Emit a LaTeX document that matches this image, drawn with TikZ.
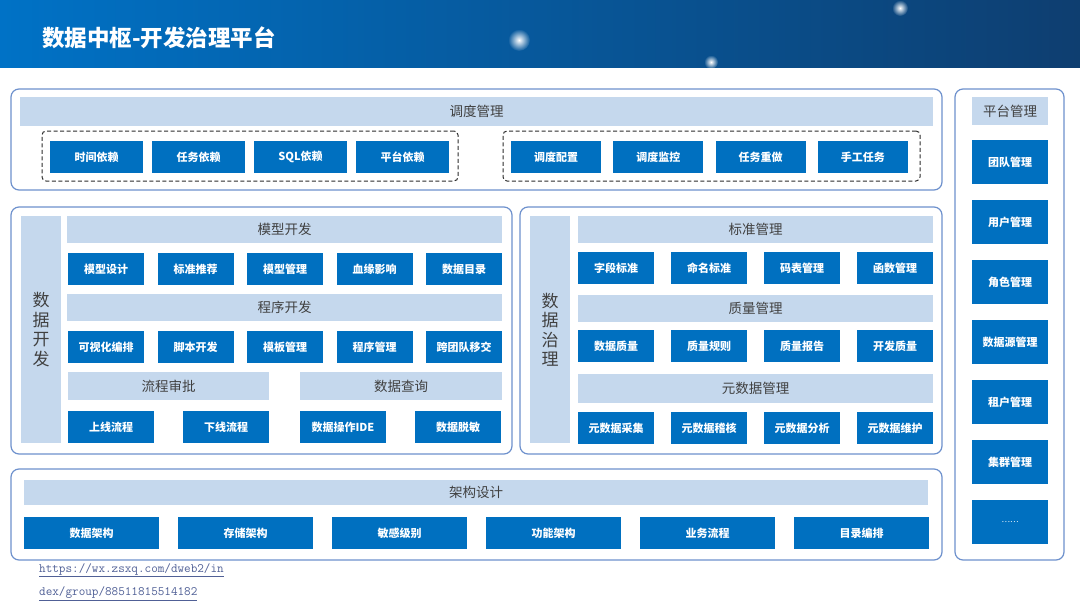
\documentclass[tikz,border=0pt]{standalone}
\usepackage{fontspec}
\setmainfont{Noto Sans CJK SC}
\usetikzlibrary{positioning,fadings}
\definecolor{hdrleft}{RGB}{0,114,198}
\definecolor{hdrmid}{RGB}{0,104,186}
\definecolor{hdrright}{RGB}{14,62,112}
\definecolor{itemblue}{RGB}{0,112,192}
\definecolor{barblue}{RGB}{197,216,237}
\definecolor{bartext}{RGB}{64,64,64}
\definecolor{panelline}{RGB}{110,145,205}
\definecolor{dashgray}{RGB}{45,45,45}
\definecolor{linkblue}{RGB}{80,96,150}
\tikzfading[name=glow, inner color=transparent!0, outer color=transparent!100]

\begin{document}
\begin{tikzpicture}[x=1pt, y=-1pt,
  panel/.style={draw=panelline, line width=1.2pt, rounded corners=8pt, anchor=north west, inner sep=0pt, outer sep=0pt},
  dashbox/.style={draw=dashgray, line width=1pt, dash pattern=on 4pt off 2.5pt, rounded corners=4pt, anchor=north west, inner sep=0pt, outer sep=0pt},
  bar/.style={fill=barblue, text=bartext, font=\fontsize{13.5}{16}\selectfont, inner sep=0pt, outer sep=0pt, anchor=north west},
  side/.style={bar, align=center, font=\fontsize{17}{19.5}\selectfont},
  item/.style={fill=itemblue, text=white, font=\bfseries\fontsize{11}{13}\selectfont, inner sep=0pt, outer sep=0pt, minimum height=32pt},
  link/.style={anchor=west, inner sep=0pt, text=linkblue, font=\ttfamily\fontsize{12.8}{14}\selectfont},
]
  \fill[white] (0,0) rectangle (1080,608);
  \useasboundingbox (0,0) rectangle (1080,608);
  \shade[left color=hdrleft, middle color=hdrmid, right color=hdrright] (0,0) rectangle (1080,67);
  \fill[white, path fading=glow] (519,40) circle (11pt);
  \fill[white, path fading=glow] (711,62) circle (7pt);
  \fill[white, path fading=glow] (900,8) circle (8pt);
  \node[anchor=west, inner sep=0pt, text=white, font=\bfseries\fontsize{22.5}{26}\selectfont] (title) at (42,38) {数据中枢-开发治理平台};

  \node[panel, minimum width=931pt, minimum height=101pt] (schedpanel) at (11,89) {};
  \node[bar, minimum width=913pt, minimum height=29pt] (schedbar) at (20,97) {调度管理};
  \node[dashbox, minimum width=416pt, minimum height=50pt] (depgroup) at (42,131) {};
  \node[dashbox, minimum width=417pt, minimum height=50pt] (opsgroup) at (503,131) {};
  \node[item, minimum width=93pt, anchor=north west] (dep1) at (50,141) {时间依赖};
  \node[item, minimum width=93pt, right=9pt of dep1] (dep2) {任务依赖};
  \node[item, minimum width=93pt, right=9pt of dep2] (dep3) {SQL依赖};
  \node[item, minimum width=93pt, right=9pt of dep3] (dep4) {平台依赖};
  \node[item, minimum width=90pt, anchor=north west] (ops1) at (511,141) {调度配置};
  \node[item, minimum width=90pt, right=12.3pt of ops1] (ops2) {调度监控};
  \node[item, minimum width=90pt, right=12.3pt of ops2] (ops3) {任务重做};
  \node[item, minimum width=90pt, right=12.3pt of ops3] (ops4) {手工任务};

  \node[panel, minimum width=501pt, minimum height=247pt] (devpanel) at (11,207) {};
  \node[side, minimum width=40pt, minimum height=227pt] (devside) at (21,216) {数\\据\\开\\发};
  \node[bar, minimum width=435pt, minimum height=27pt] (modelbar) at (67,216) {模型开发};
  \node[item, minimum width=76pt, anchor=north west] (model1) at (68,253) {模型设计};
  \node[item, minimum width=76pt, right=13.5pt of model1] (model2) {标准推荐};
  \node[item, minimum width=76pt, right=13.5pt of model2] (model3) {模型管理};
  \node[item, minimum width=76pt, right=13.5pt of model3] (model4) {血缘影响};
  \node[item, minimum width=76pt, right=13.5pt of model4] (model5) {数据目录};
  \node[bar, minimum width=435pt, minimum height=27pt] (progbar) at (67,294) {程序开发};
  \node[item, minimum width=76pt, anchor=north west] (prog1) at (68,331) {可视化编排};
  \node[item, minimum width=76pt, right=13.5pt of prog1] (prog2) {脚本开发};
  \node[item, minimum width=76pt, right=13.5pt of prog2] (prog3) {模板管理};
  \node[item, minimum width=76pt, right=13.5pt of prog3] (prog4) {程序管理};
  \node[item, minimum width=76pt, right=13.5pt of prog4] (prog5) {跨团队移交};
  \node[bar, minimum width=201pt, minimum height=28pt] (flowbar) at (68,372) {流程审批};
  \node[bar, minimum width=202pt, minimum height=28pt] (querybar) at (300,372) {数据查询};
  \node[item, minimum width=86pt, anchor=north west] (flow1) at (68,411) {上线流程};
  \node[item, minimum width=86pt, right=29pt of flow1] (flow2) {下线流程};
  \node[item, minimum width=86pt, anchor=north west] (query1) at (300,411) {数据操作IDE};
  \node[item, minimum width=86pt, right=29pt of query1] (query2) {数据脱敏};

  \node[panel, minimum width=422pt, minimum height=247pt] (govpanel) at (520,207) {};
  \node[side, minimum width=40pt, minimum height=227pt] (govside) at (530,216) {数\\据\\治\\理};
  \node[bar, minimum width=355pt, minimum height=27pt] (stdbar) at (578,216) {标准管理};
  \node[item, minimum width=76pt, anchor=north west] (std1) at (578,252) {字段标准};
  \node[item, minimum width=76pt, right=17pt of std1] (std2) {命名标准};
  \node[item, minimum width=76pt, right=17pt of std2] (std3) {码表管理};
  \node[item, minimum width=76pt, right=17pt of std3] (std4) {函数管理};
  \node[bar, minimum width=355pt, minimum height=27pt] (qualbar) at (578,295) {质量管理};
  \node[item, minimum width=76pt, anchor=north west] (qual1) at (578,330) {数据质量};
  \node[item, minimum width=76pt, right=17pt of qual1] (qual2) {质量规则};
  \node[item, minimum width=76pt, right=17pt of qual2] (qual3) {质量报告};
  \node[item, minimum width=76pt, right=17pt of qual3] (qual4) {开发质量};
  \node[bar, minimum width=355pt, minimum height=29pt] (metabar) at (578,374) {元数据管理};
  \node[item, minimum width=76pt, anchor=north west] (meta1) at (578,412) {元数据采集};
  \node[item, minimum width=76pt, right=17pt of meta1] (meta2) {元数据稽核};
  \node[item, minimum width=76pt, right=17pt of meta2] (meta3) {元数据分析};
  \node[item, minimum width=76pt, right=17pt of meta3] (meta4) {元数据维护};

  \node[panel, minimum width=109pt, minimum height=471pt] (platpanel) at (955,89) {};
  \node[bar, minimum width=76pt, minimum height=28pt] (platbar) at (972,97) {平台管理};
  \node[item, minimum width=76pt, minimum height=44pt, anchor=north west] (plat1) at (972,140) {团队管理};
  \node[item, minimum width=76pt, minimum height=44pt, below=16pt of plat1] (plat2) {用户管理};
  \node[item, minimum width=76pt, minimum height=44pt, below=16pt of plat2] (plat3) {角色管理};
  \node[item, minimum width=76pt, minimum height=44pt, below=16pt of plat3] (plat4) {数据源管理};
  \node[item, minimum width=76pt, minimum height=44pt, below=16pt of plat4] (plat5) {租户管理};
  \node[item, minimum width=76pt, minimum height=44pt, below=16pt of plat5] (plat6) {集群管理};
  \node[item, minimum width=76pt, minimum height=44pt, below=16pt of plat6, font=\fontsize{8}{10}\selectfont] (plat7) {……};

  \node[panel, minimum width=931pt, minimum height=91pt] (archpanel) at (11,469) {};
  \node[bar, minimum width=904pt, minimum height=25pt] (archbar) at (24,480) {架构设计};
  \node[item, minimum width=135pt, anchor=north west] (arch1) at (24,517) {数据架构};
  \node[item, minimum width=135pt, right=19pt of arch1] (arch2) {存储架构};
  \node[item, minimum width=135pt, right=19pt of arch2] (arch3) {敏感级别};
  \node[item, minimum width=135pt, right=19pt of arch3] (arch4) {功能架构};
  \node[item, minimum width=135pt, right=19pt of arch4] (arch5) {业务流程};
  \node[item, minimum width=135pt, right=19pt of arch5] (arch6) {目录编排};

  \node[link] (link1) at (39,570) {\underline{https://wx.zsxq.com/dweb2/in}};
  \node[link] (link2) at (39,594) {\underline{dex/group/88511815514182}};
\end{tikzpicture}
\end{document}
